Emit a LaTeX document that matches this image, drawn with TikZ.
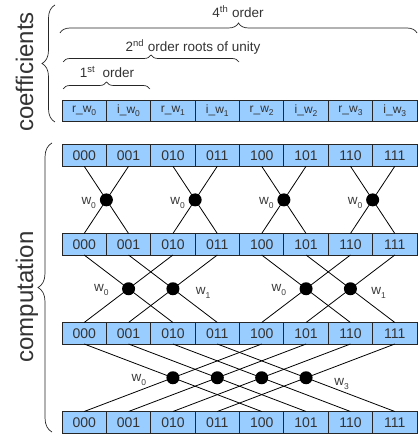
\documentclass[tikz,border=0pt]{standalone}
\usepackage{fontspec}
\setmainfont{Liberation Sans}
\usetikzlibrary{decorations.pathreplacing,calc}
\definecolor{cellblue}{HTML}{99CCFF}
\definecolor{txt}{HTML}{333333}
\definecolor{lbl}{HTML}{3C3C3C}
\newcommand{\lowsub}[1]{\raisebox{-0.55ex}{\fontsize{8.5}{8.5}\selectfont #1}}
\begin{document}
\begin{tikzpicture}[x=1pt,y=-1pt,
  cell/.style={draw=black!85, fill=cellblue, minimum width=44.375pt, minimum height=21.5pt,
    inner sep=0pt, outer sep=0pt, text=txt, line width=0.8pt, font=\fontsize{14}{14}\selectfont},
  coef/.style={cell, font=\fontsize{12}{12}\selectfont},
  wire/.style={line width=0.8pt, black},
  dot/.style={circle, fill=black, minimum size=13pt, inner sep=0pt},
  wl/.style={text=lbl, inner sep=0pt, font=\fontsize{13.5}{13.5}\selectfont},
  bigl/.style={text=txt, rotate=90, anchor=base, inner sep=0pt, font=\fontsize{24}{24}\selectfont},
  brl/.style={text=txt, anchor=base, inner sep=0pt, font=\fontsize{13.5}{13.5}\selectfont},
  br/.style={decorate, line width=0.7pt, black!85, decoration={brace, amplitude=#1}}
]
\useasboundingbox (0,0) rectangle (417,435);

% coefficient row
\foreach \t [count=\k from 0] in {r\_w\lowsub{0},i\_w\lowsub{0},r\_w\lowsub{1},i\_w\lowsub{1},r\_w\lowsub{2},i\_w\lowsub{2},r\_w\lowsub{3},i\_w\lowsub{3}}
  \node[coef] (c\k) at ({62+44.375*\k+22.1875},110.75) {\t};

% computation rows
\foreach \r/\y in {a/155.5,b/244.25,c2/333.25,d/422.25}
  \foreach \t [count=\k from 0] in {000,001,010,011,100,101,110,111}
    \node[cell] (\r\k) at ({62+44.375*\k+22.1875},\y) {\t};

% stage 1
\foreach \k in {0,2,4,6}{
  \pgfmathtruncatemacro{\j}{\k+1}
  \draw[wire] (a\k.south) -- (b\j.north);
  \draw[wire] (a\j.south) -- (b\k.north);
  \node[dot] (p\k) at ($(a\k.south)!0.5!(b\j.north)$) {};
  \node[wl, anchor=east] (lp\k) at ($(p\k.west)+(-3.5,3)$) {w\lowsub{0}};
}
% stage 2
\foreach \k in {0,1,4,5}{
  \pgfmathtruncatemacro{\j}{\k+2}
  \draw[wire] (b\k.south) -- (c2\j.north);
  \draw[wire] (b\j.south) -- (c2\k.north);
  \node[dot] (q\k) at ($(b\k.south)!0.5!(c2\j.north)$) {};
}
\node[wl, anchor=east] (lq0) at ($(q0.west)+(-13,1.5)$) {w\lowsub{0}};
\node[wl, anchor=west] (lq1) at ($(q1.east)+(16,4)$) {w\lowsub{1}};
\node[wl, anchor=east] (lq4) at ($(q4.west)+(-13,1.5)$) {w\lowsub{0}};
\node[wl, anchor=west] (lq5) at ($(q5.east)+(14,4)$) {w\lowsub{1}};
% stage 3
\foreach \k in {0,1,2,3}{
  \pgfmathtruncatemacro{\j}{\k+4}
  \draw[wire] (c2\k.south) -- (d\j.north);
  \draw[wire] (c2\j.south) -- (d\k.north);
  \node[dot] (s\k) at ($(c2\k.south)!0.5!(d\j.north)$) {};
}
\node[wl, anchor=east] (ls0) at ($(s0.west)+(-20,2)$) {w\lowsub{0}};
\node[wl, anchor=west] (ls3) at ($(s3.east)+(21.5,6)$) {w\lowsub{3}};

% left braces and labels
\coordinate (cb1) at (55,122);
\coordinate (cb2) at (55,5);
\draw[br=13] (cb1) -- (cb2);
\node[bigl] (tcoef) at (33,72) {coefficients};
\coordinate (mb1) at (52,432);
\coordinate (mb2) at (52,143);
\draw[br=14] (mb1) -- (mb2);
\node[bigl] (tcomp) at (33,297) {computation};

% top braces
\coordinate (o4a) at (60,33);
\coordinate (o4b) at (417,33);
\draw[br=10] (o4a) -- (o4b);
\node[brl] (t4) at (238,18) {4\textsuperscript{th} order};
\coordinate (o2a) at (63,62);
\coordinate (o2b) at (239,62);
\draw[br=7] (o2a) -- (o2b);
\node[brl] (t2) at (193,52) {2\textsuperscript{nd} order roots of unity};
\coordinate (o1a) at (63,89);
\coordinate (o1b) at (150,89);
\draw[br=7] (o1a) -- (o1b);
\node[brl] (t1) at (107,78) {1\textsuperscript{st}\ \ order};
\end{tikzpicture}
\end{document}
